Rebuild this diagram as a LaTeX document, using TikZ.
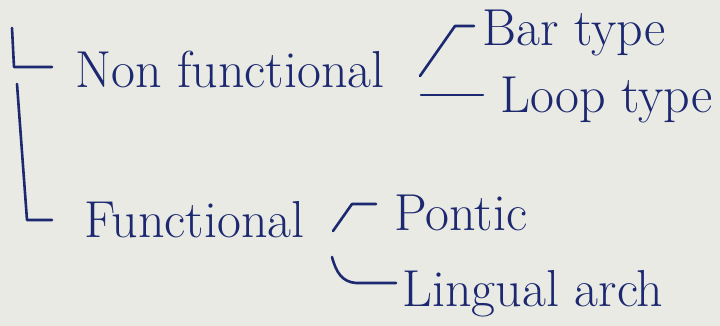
\documentclass[tikz,border=0pt]{standalone}
\usepackage{xcolor}
\usepackage{tikz}
\usetikzlibrary{positioning, calc}
\definecolor{ink}{HTML}{1C2870}
\definecolor{paper}{HTML}{E9EAE4}
\tikzset{
  label/.style={anchor=base west, inner sep=0pt, text=ink, font=\fontsize{52}{60}\selectfont},
  stroke/.style={draw=ink, line width=2.6pt, line cap=round, line join=round},
}

\begin{document}
\begin{tikzpicture}[x=1pt, y=-1pt]
  % page
  \fill[paper] (0,0) rectangle (720,326);
  \useasboundingbox (0,0) rectangle (720,326);

  % main branches
  \node[label] (nonfn) at (75,88) {Non functional};
  \node[label] (fn) at (84,237) {Functional};

  % sub branches
  \node[label] (bar) at (482,46) {Bar type};
  \node[label] (loop) at (500,113) {Loop type};
  \node[label] (pontic) at (394,230) {Pontic};
  \node[label] (lingual) at (402,306) {Lingual arch};

  % bracket on the left
  \coordinate (top) at (12,28);
  \coordinate (nftick) at (14,67);
  \coordinate (bottom) at (27,220);
  \draw[stroke] (top) -- (nftick) -- (52,67);
  \draw[stroke] (17,84) -- (bottom) -- ([xshift=-32pt]fn.west |- bottom);

  % connectors
  \coordinate (barfoot) at (420,76);
  \draw[stroke] (barfoot) -- (455,26) -- ([xshift=-8pt]bar.west |- 0,26);
  \coordinate (loopfoot) at (421,95);
  \draw[stroke] (loopfoot) -- ([xshift=-17pt]loop.west |- loopfoot);
  \coordinate (ponticfoot) at (333,231);
  \draw[stroke] (ponticfoot) -- (352,204) -- ([xshift=-18pt]pontic.west |- 0,204);
  \coordinate (lingualtop) at (332,257);
  \draw[stroke] (lingualtop) .. controls (336,272) and (342,282) .. (356,283)
    -- ([xshift=-6pt]lingual.west |- 0,283);
\end{tikzpicture}
\end{document}
